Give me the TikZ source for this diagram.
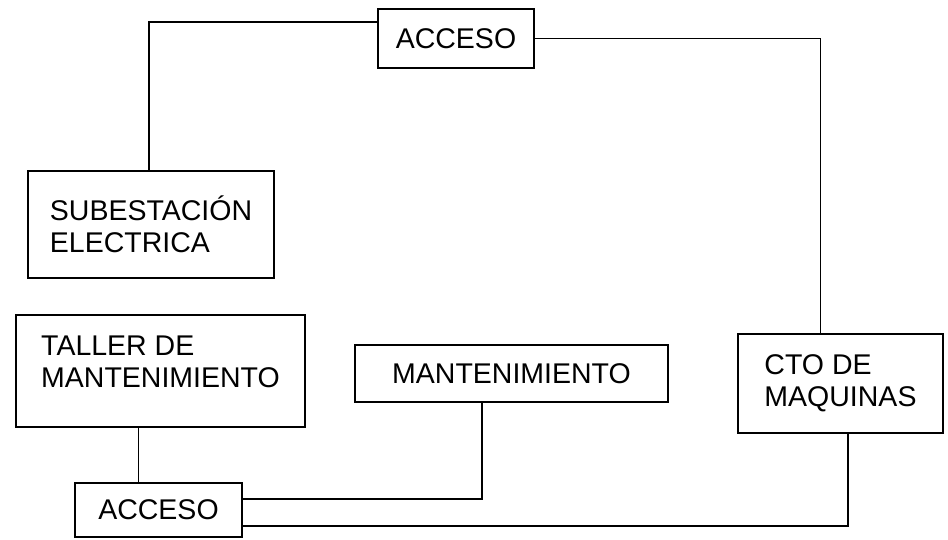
\documentclass[tikz,border=0pt]{standalone}
\usepackage{fontspec}
\setmainfont{Liberation Sans}
\begin{document}
\begin{tikzpicture}[x=1pt,y=-1pt,
  box/.style={draw,line width=1.9pt,rectangle,inner sep=0pt,align=left,
    font=\fontsize{28.5}{32}\selectfont},
  link/.style={line width=1.9pt}]
\useasboundingbox (0,0) rectangle (948,539);
\node[box,minimum width=156pt,minimum height=59pt] (acc1) at (456,38.5) {ACCESO};
\node[box,minimum width=246pt,minimum height=107pt] (sub) at (151,224.5) {SUBESTACIÓN\\ELECTRICA};
\node[box,minimum width=289pt,minimum height=112pt] (taller) at (160.5,371) {TALLER DE\\MANTENIMIENTO\\[-14pt]};
\node[box,minimum width=313pt,minimum height=57pt] (mant) at (511.5,373.5) {MANTENIMIENTO};
\node[box,minimum width=205pt,minimum height=99pt] (cto) at (840.5,383.5) {CTO DE\\MAQUINAS};
\node[box,minimum width=167pt,minimum height=54pt] (acc2) at (158.5,510) {ACCESO};
\draw[link] ([yshift=16.5pt]acc1.west) -| ([xshift=-2pt]sub.north);
\draw[link] (acc1.east) -| ([xshift=-20pt]cto.north);
\draw[link] ([xshift=-22pt]taller.south) -- ([xshift=-22pt]taller.south |- acc2.north);
\draw[link] ([xshift=-29.5pt]mant.south) |- ([yshift=11pt]acc2.east);
\draw[link] ([yshift=-16pt]acc2.east) -| ([xshift=7.5pt]cto.south);
\end{tikzpicture}
\end{document}
